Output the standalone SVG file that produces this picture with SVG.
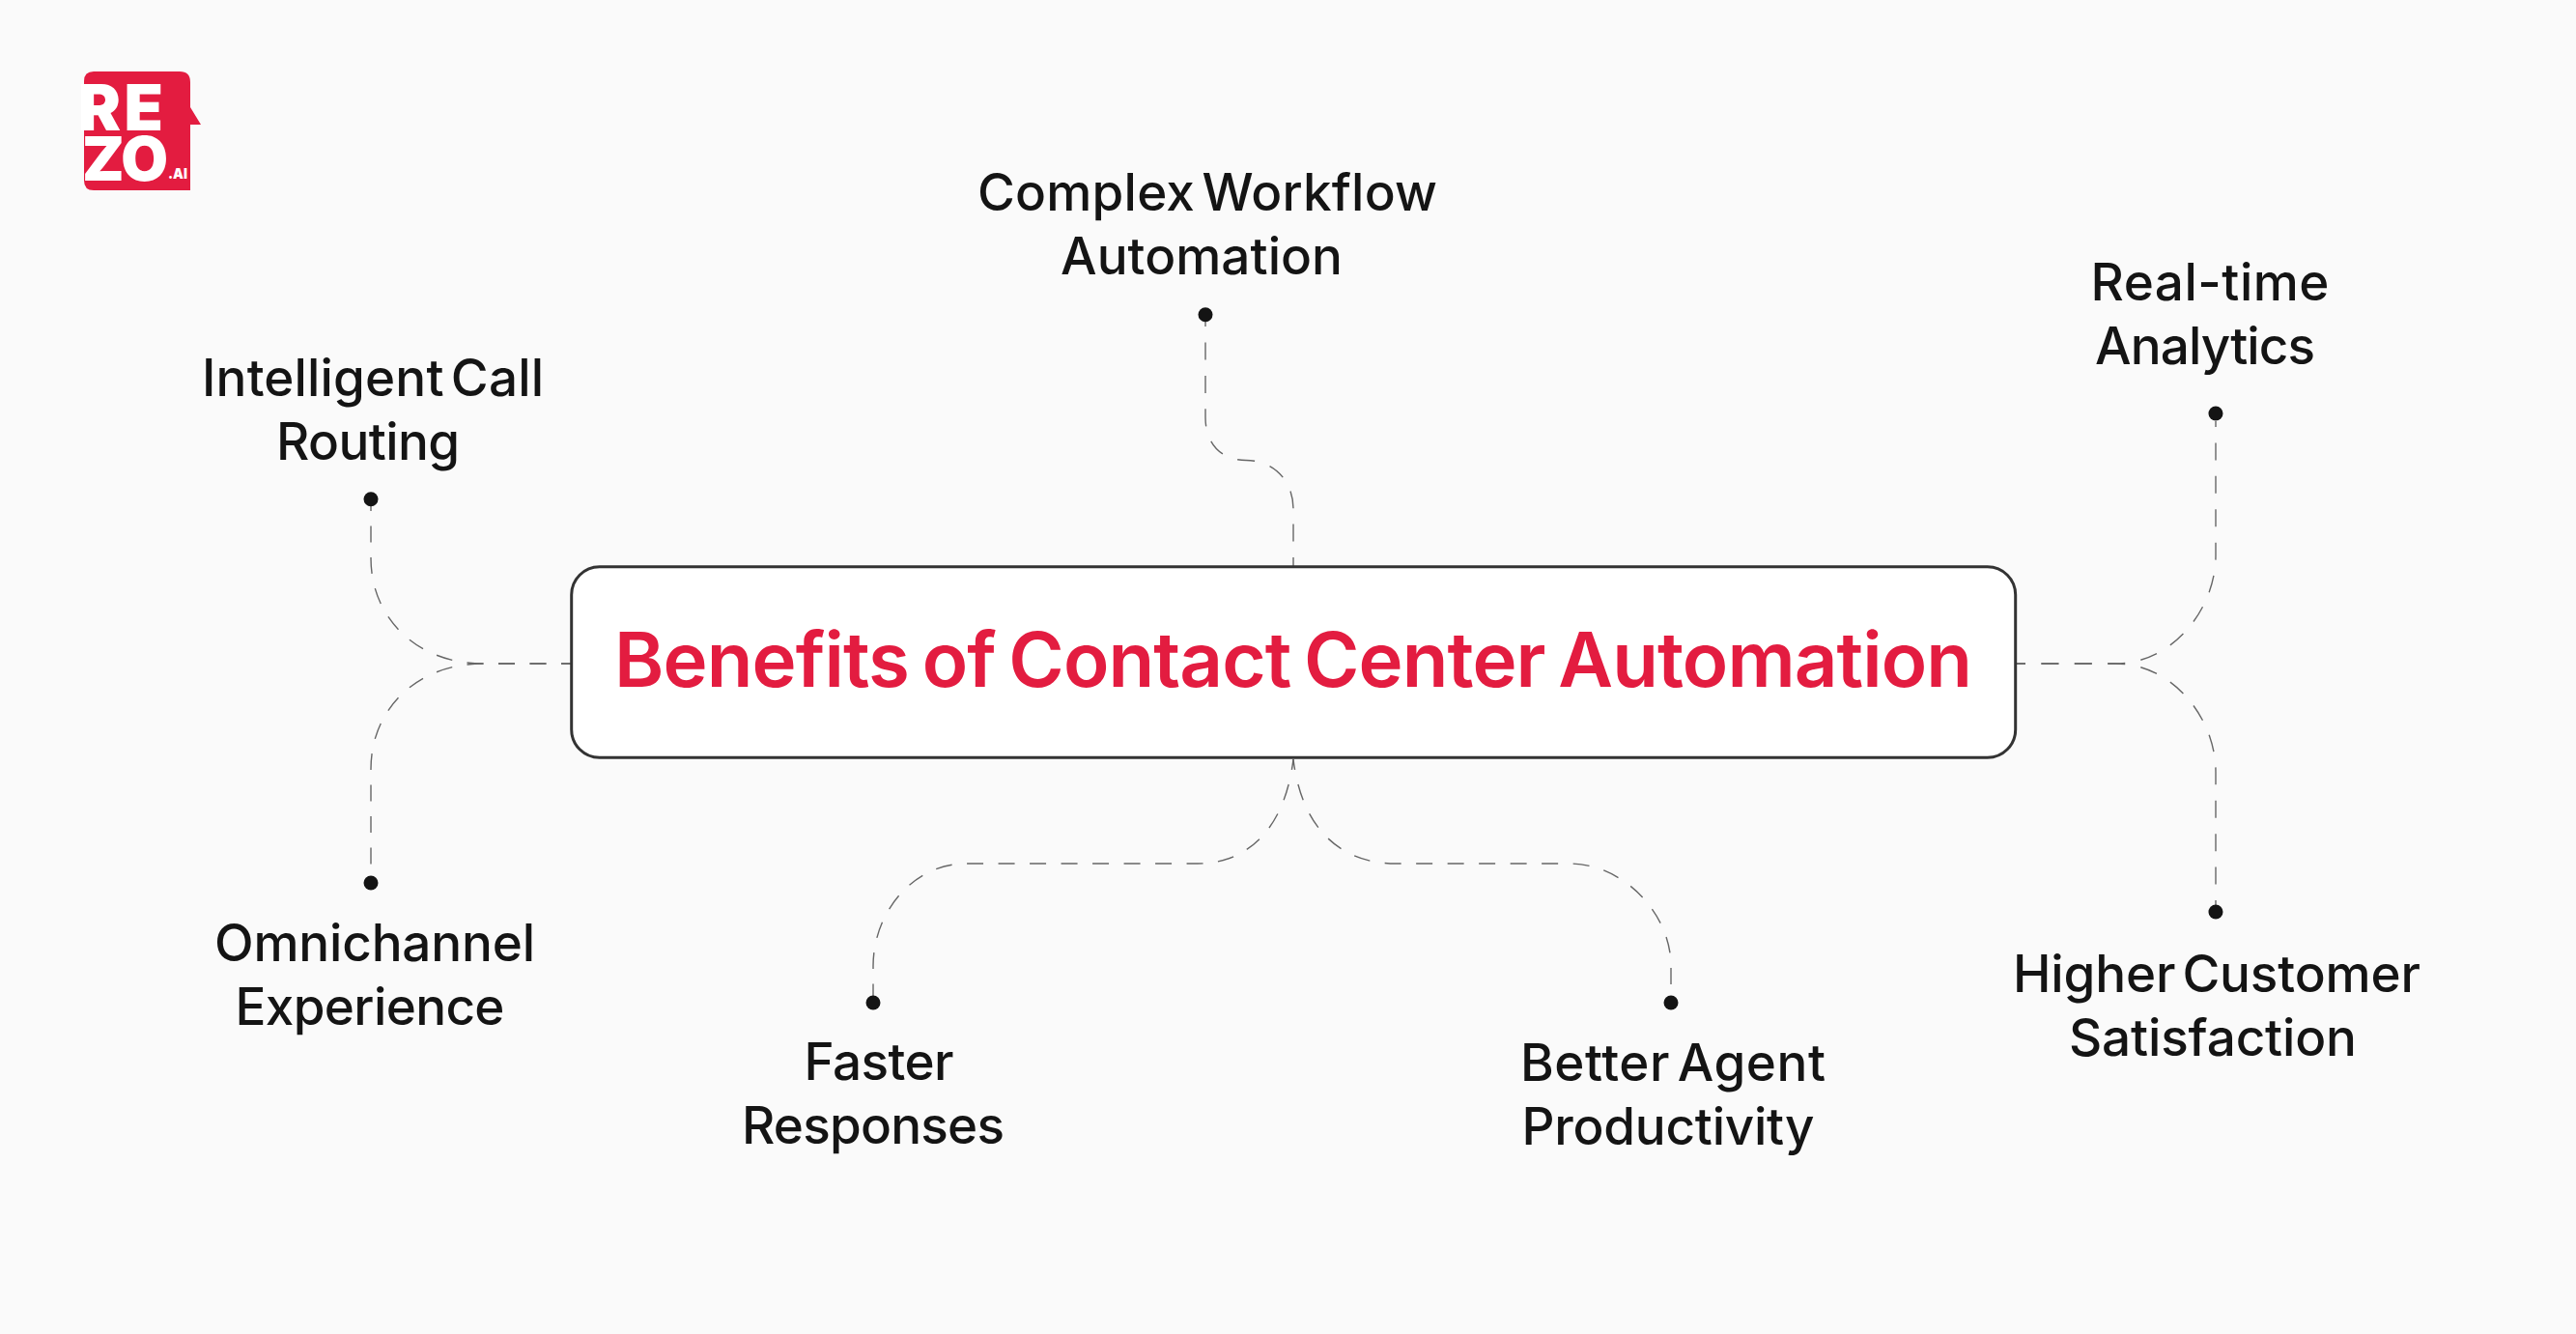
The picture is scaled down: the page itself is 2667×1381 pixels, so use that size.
<svg xmlns="http://www.w3.org/2000/svg" width="2667" height="1381" viewBox="0 0 2667 1381">
<style>
.lbl{font-family:"Inter","Liberation Sans",sans-serif;font-weight:500;font-size:53px;word-spacing:-7px;fill:#141414;text-anchor:middle}
.dot{fill:#141414}
.con{fill:none;stroke:#666;stroke-width:1.4;stroke-dasharray:17 15.5;stroke-dashoffset:6}
.con2{stroke-dasharray:18 16.4;stroke-dashoffset:8}
.logo{font-family:"Inter","Liberation Sans",sans-serif;font-weight:900;fill:#fff}
</style>
<rect width="2667" height="1381" fill="#fafafa"/>
<g id="logo">
<path d="M87 84Q87 74 97 74H186Q197 74 197 85V111L208 129H197V197H97Q87 197 87 187Z" fill="#e31c40"/>
<text class="logo" x="81" y="135" font-size="66" textLength="88">RE</text>
<text class="logo" x="85" y="187" font-size="63" textLength="89">ZO</text>
<text class="logo" x="174" y="185" font-size="15" font-weight="700" textLength="20" lengthAdjust="spacingAndGlyphs">.AI</text>
</g>
<g id="connectors">
<path class="con" d="M592 687H500C432 687 384 640 384 578V524"/>
<path class="con" d="M592 687H500C432 687 384 734 384 796V907"/>
<path class="con con2" d="M2087 687H2190C2250 687 2294 630 2294 575V436"/>
<path class="con con2" d="M2087 687H2190C2250 687 2294 744 2294 799V937"/>
<path class="con con2" d="M1339 587V527C1339 497 1318 476.5 1290 476.5C1265 476.5 1248 460 1248 432V333"/>
<path class="con" d="M1339 786C1330 860 1290 894 1240 894H1000C945 894 904 945 904 1000V1031"/>
<path class="con" d="M1339 786C1348 860 1390 894 1445 894H1625C1680 894 1730 945 1730 1000V1031"/>
</g>
<g id="center"><rect x="591.7" y="586.7" width="1495" height="197.6" rx="29" fill="#fff" stroke="#333" stroke-width="3"/>
<text x="1339" y="711" font-family="Inter,'Liberation Sans',sans-serif" font-weight="600" font-size="78" word-spacing="-5" textLength="1406" fill="#e31c40" text-anchor="middle">Benefits of Contact Center Automation</text></g>
<g id="workflow"><circle class="dot" cx="1248" cy="325.7" r="7.5"/><text class="lbl" x="1250" y="218" textLength="476">Complex Workflow</text><text class="lbl" x="1244" y="284" textLength="292">Automation</text></g>
<g id="analytics"><circle class="dot" cx="2294" cy="428" r="7.5"/><text class="lbl" x="2288" y="311" textLength="247">Real-time</text><text class="lbl" x="2283" y="377" textLength="228">Analytics</text></g>
<g id="routing"><circle class="dot" cx="384" cy="516.7" r="7.5"/><text class="lbl" x="386" y="410" textLength="354">Intelligent Call</text><text class="lbl" x="381" y="476" textLength="190">Routing</text></g>
<g id="omni"><circle class="dot" cx="384" cy="914" r="7.5"/><text class="lbl" x="388" y="995" textLength="332">Omnichannel</text><text class="lbl" x="383" y="1061" textLength="279">Experience</text></g>
<g id="faster"><circle class="dot" cx="904" cy="1038" r="7.5"/><text class="lbl" x="910" y="1118" textLength="155">Faster</text><text class="lbl" x="904" y="1184" textLength="272">Responses</text></g>
<g id="agent"><circle class="dot" cx="1730" cy="1038" r="7.5"/><text class="lbl" x="1732" y="1119" textLength="316">Better Agent</text><text class="lbl" x="1727" y="1185" textLength="303">Productivity</text></g>
<g id="csat"><circle class="dot" cx="2294" cy="944" r="7.5"/><text class="lbl" x="2295" y="1027" textLength="422">Higher Customer</text><text class="lbl" x="2291" y="1093" textLength="298">Satisfaction</text></g>
</svg>
